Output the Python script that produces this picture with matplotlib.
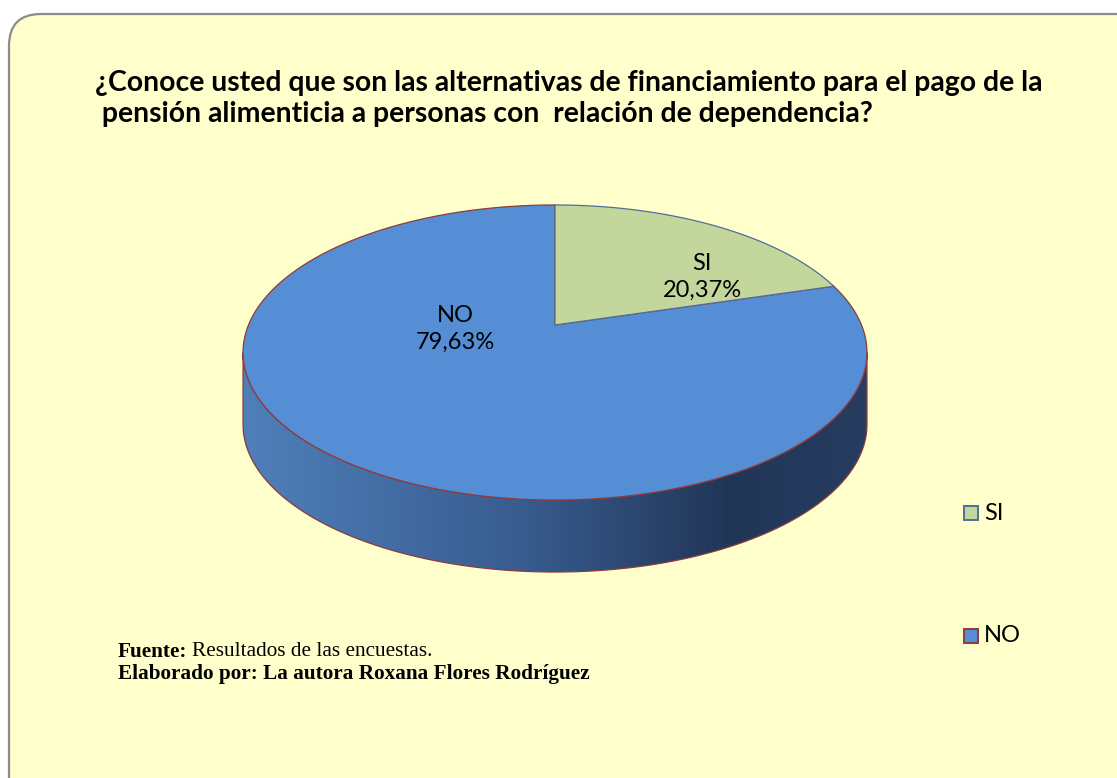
import numpy as np
import matplotlib
matplotlib.use("Agg")
import matplotlib.pyplot as plt
from matplotlib.patches import Polygon, FancyBboxPatch, Rectangle
from matplotlib.colors import LinearSegmentedColormap

# ---- data ----
categories = ["SI", "NO"]
values = [20.37, 79.63]
value_labels = ["20,37%", "79,63%"]
title_lines = ["¿Conoce usted que son las alternativas de financiamiento para el pago de la",
               " pensión alimenticia a personas con  relación de dependencia?"]

top_colors = {"SI": "#C3D69B", "NO": "#558ED5"}
edge_colors = {"SI": "#4F6F9A", "NO": "#8E3B3B"}

W, H = 1117, 778
fig = plt.figure(figsize=(W / 100, H / 100), dpi=100)
ax = fig.add_axes([0, 0, 1, 1])
ax.set_xlim(0, W)
ax.set_ylim(H, 0)
ax.axis("off")
fig.patch.set_facecolor("white")

# frame
frame = FancyBboxPatch((9, 14), 1140, 800, boxstyle="round,pad=0,rounding_size=32",
                       facecolor="#FFFFCC", edgecolor="#8C8C8C", linewidth=1.6, zorder=0)
ax.add_patch(frame)

# ---- perspective pie geometry ----
cx, cy = 555, 325
a, b, k = 306.5, 142.4, 0.1864
depth = 72


def proj(t, dz=0.0):
    x, y = np.cos(t), np.sin(t)
    s = 1 + k * y
    return cx + a * x / s, cy - b * y / s + dz


# side wall (front)
t0 = np.pi + np.arcsin(k)
t1 = 2 * np.pi - np.arcsin(k)
tt = np.linspace(t0, t1, 300)
xt, yt = proj(tt)
xb, yb = proj(tt[::-1], depth)
wall_xy = np.column_stack([np.r_[xt, xb], np.r_[yt, yb]])
wall = Polygon(wall_xy, closed=True, facecolor="none", edgecolor="#8E3B3B", linewidth=0.9, zorder=2)
ax.add_patch(wall)
cmap = LinearSegmentedColormap.from_list(
    "wall", [(0, (0.31, 0.50, 0.73)), (0.45, (0.22, 0.36, 0.56)),
             (0.78, (0.13, 0.21, 0.34)), (1.0, (0.15, 0.24, 0.38))])
xmin, xmax = wall_xy[:, 0].min(), wall_xy[:, 0].max()
ymin, ymax = wall_xy[:, 1].min(), wall_xy[:, 1].max()
grad = np.linspace(0, 1, 512)[None, :]
im = ax.imshow(grad, cmap=cmap, extent=[xmin, xmax, ymax, ymin], aspect="auto", zorder=1.5)
clip = Polygon(wall_xy, closed=True, transform=ax.transData)
im.set_clip_path(clip)

# top faces
start = np.pi / 2
total = sum(values)
angles = {}
cur = start
for cat, v in zip(categories, values):
    sweep = 2 * np.pi * v / total
    angles[cat] = (cur, cur - sweep)
    cur -= sweep

for cat in ["NO", "SI"]:
    s0, s1 = angles[cat]
    ts = np.linspace(s0, s1, 400)
    px, py = proj(ts)
    poly = np.column_stack([np.r_[cx, px], np.r_[cy, py]])
    ax.add_patch(Polygon(poly, closed=True, facecolor=top_colors[cat],
                         edgecolor=edge_colors[cat], linewidth=0.9, zorder=3))

# labels
ax.text(702, 277, "SI\n" + value_labels[0], ha="center", va="center", fontsize=17,
        family="Lato", linespacing=1.3, zorder=5)
ax.text(455, 329, "NO\n" + value_labels[1], ha="center", va="center", fontsize=17,
        family="Lato", linespacing=1.3, zorder=5)

# title
ax.text(95, 83, title_lines[0], ha="left", va="center", fontsize=20.4,
        fontweight="bold", family="Lato", zorder=5)
ax.text(95, 114, title_lines[1], ha="left", va="center", fontsize=20.4,
        fontweight="bold", family="Lato", zorder=5)

# legend
leg_y = [513, 636]
for cat, ly in zip(categories, leg_y):
    ax.add_patch(Rectangle((964, ly - 7), 14, 14, facecolor=top_colors[cat],
                           edgecolor=edge_colors[cat], linewidth=1.4, zorder=5))
    ax.text(984, ly, cat, ha="left", va="center", fontsize=17, family="Lato", zorder=5)

# footer
t1_ = ax.text(118, 652, "Fuente:", ha="left", va="center", fontsize=15.3,
              fontweight="bold", family="Liberation Serif", zorder=5)
fig.canvas.draw()
bb = t1_.get_window_extent()
x_end = bb.x1
ax.text(x_end + 5, 652, "Resultados de las encuestas.", ha="left", va="center",
        fontsize=15.3, family="Liberation Serif", zorder=5)
ax.text(118, 674, "Elaborado por: La autora Roxana Flores Rodríguez", ha="left",
        va="center", fontsize=15.3, fontweight="bold", family="Liberation Serif", zorder=5)

fig.savefig("out.png", dpi=100, facecolor="white")
